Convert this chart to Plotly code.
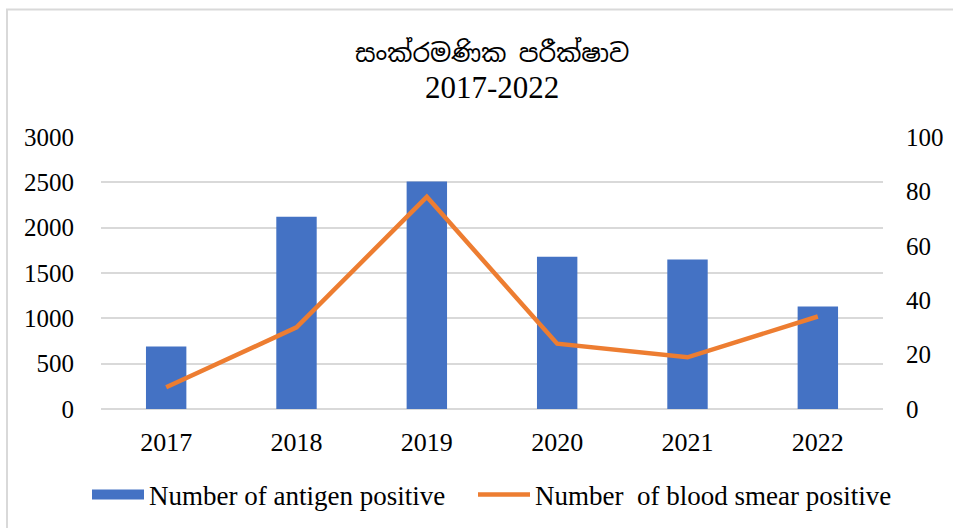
import plotly.graph_objects as go

years = ["2017", "2018", "2019", "2020", "2021", "2022"]
antigen_positive = [690, 2120, 2510, 1680, 1650, 1130]
blood_smear_positive = [8, 30, 78, 24, 19, 34]

title_line1 = "සංක්රමණික පරීක්ෂාව"
title_line2 = "2017-2022"
left_ticks = [0, 500, 1000, 1500, 2000, 2500, 3000]
right_ticks = [0, 20, 40, 60, 80, 100]
name_antigen = "Number of antigen positive"
name_smear = "Number  of blood smear positive"

FONT = "Liberation Serif, Times New Roman, serif"
BLUE = "#4472c4"
ORANGE = "#ed7d31"

# plot-area geometry (pixels) used for paper-coordinate decorations
L, R, T, B = 101, 883, 137, 409
PW, PH = R - L, B - T


def px(xpix):
    return (xpix - L) / PW


def py(ypix):
    return (B - ypix) / PH


fig = go.Figure()
fig.add_trace(go.Bar(
    x=years, y=antigen_positive, name=name_antigen, showlegend=False,
    legendgroup="a", marker=dict(color=BLUE, line=dict(width=0)), yaxis="y",
))
# legend swatch for the bars (wide flat rectangle like the original)
fig.add_trace(go.Scatter(
    x=[None], y=[None], name=name_antigen, legendgroup="a", mode="lines",
    line=dict(color=BLUE, width=11), yaxis="y", hoverinfo="skip", legend="legend",
))
fig.add_trace(go.Scatter(
    x=years, y=blood_smear_positive, name=name_smear,
    mode="lines", line=dict(color=ORANGE, width=4.5), yaxis="y2", legend="legend2",
))

legend_common = dict(orientation="h", xanchor="left", y=py(495), yanchor="middle",
                     font=dict(size=27), itemwidth=52, bgcolor="rgba(0,0,0,0)")

fig.update_layout(
    width=953, height=528,
    margin=dict(l=L, r=953 - R, t=T, b=528 - B, autoexpand=False),
    paper_bgcolor="white", plot_bgcolor="white",
    font=dict(family=FONT, size=25, color="#000000"),
    bargap=0.69,
    showlegend=True,
    legend=dict(x=px(87), **legend_common),
    legend2=dict(x=px(473), **legend_common),
    xaxis=dict(showgrid=False, showline=False, ticks="", ticklabelstandoff=15,
               tickfont=dict(size=26), automargin=False),
    yaxis=dict(range=[0, 3000], tickvals=left_ticks, showgrid=True, gridcolor="#d9d9d9",
               gridwidth=1.5, zeroline=True, zerolinecolor="#d9d9d9", zerolinewidth=1.5,
               showline=False, ticks="", ticklabelstandoff=26, tickfont=dict(size=25),
               automargin=False),
    yaxis2=dict(range=[0, 100], tickvals=right_ticks, overlaying="y", side="right",
                showgrid=False, zeroline=False, showline=False, ticks="",
                ticklabelstandoff=22, tickfont=dict(size=25), automargin=False),
    annotations=[
        dict(text=title_line1, xref="paper", yref="paper", x=0.5, y=py(52),
             xanchor="center", yanchor="middle", showarrow=False,
             font=dict(size=25, family="Noto Sans Sinhala, Noto Serif Sinhala, Iskoola Pota, " + FONT)),
        dict(text=title_line2, xref="paper", yref="paper", x=0.5, y=py(87),
             xanchor="center", yanchor="middle", showarrow=False,
             font=dict(size=31, family=FONT)),
    ],
    shapes=[
        dict(type="rect", xref="paper", yref="paper",
             x0=px(7), x1=px(990), y0=py(560), y1=py(9.5),
             line=dict(color="#d9d9d9", width=2), fillcolor="rgba(0,0,0,0)", layer="below"),
    ],
)

fig.write_html("out.html", config={"displayModeBar": False},
               post_script="document.body.style.margin='0';")
